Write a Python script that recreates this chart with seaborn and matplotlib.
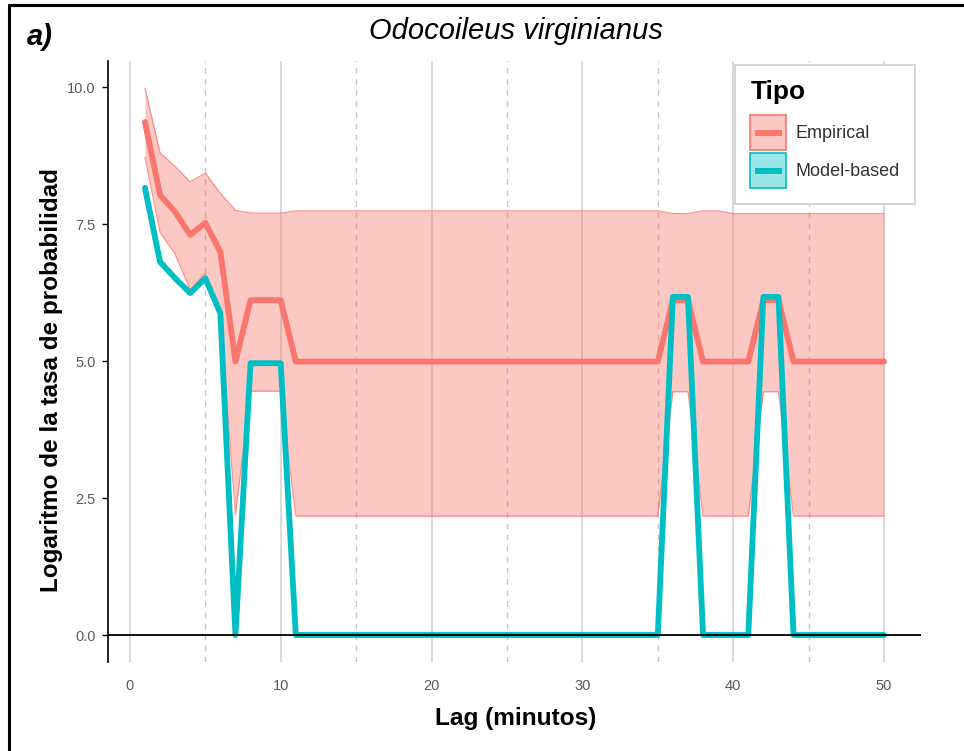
import matplotlib
matplotlib.use("Agg")
import matplotlib.pyplot as plt
from matplotlib.lines import Line2D
from matplotlib.patches import Patch, Rectangle
from matplotlib.legend_handler import HandlerTuple, HandlerPatch
from matplotlib.ticker import MultipleLocator
import numpy as np
import pandas as pd
import seaborn as sns

# Lags (minutes)
lag = list(range(1, 51))

# Empirical log-rate and its interval
empirical = ([9.36, 8.03, 7.72, 7.30, 7.52, 6.99, 4.99, 6.11, 6.11, 6.11]
             + [4.99] * 25 + [6.11, 6.11] + [4.99] * 4 + [6.11, 6.11] + [4.99] * 7)
emp_lower = ([8.72, 7.35, 6.95, 6.30, 6.60, 5.85, 2.20, 4.45, 4.45, 4.45]
             + [2.17] * 25 + [4.44, 4.44] + [2.17] * 4 + [4.44, 4.44] + [2.17] * 7)
emp_upper = ([9.98, 8.80, 8.55, 8.27, 8.43, 8.06, 7.75, 7.70, 7.70, 7.70]
             + [7.74] * 25 + [7.69, 7.69] + [7.74, 7.74] + [7.69] * 11)

# Model-based log-rate
model_based = ([8.16, 6.81, 6.51, 6.24, 6.51, 5.87, 0.0, 4.96, 4.96, 4.96]
               + [0.0] * 25 + [6.17, 6.17] + [0.0] * 4 + [6.17, 6.17] + [0.0] * 7)

tipos = ["Empirical", "Model-based"]
colores = {"Empirical": "#F8766D", "Model-based": "#00BFC4"}

df = pd.DataFrame({
    "lag": lag * 2,
    "valor": empirical + model_based,
    "Tipo": ["Empirical"] * len(lag) + ["Model-based"] * len(lag),
})

sns.set_theme(style="white")
plt.rcParams["font.family"] = ["Liberation Sans", "DejaVu Sans"]

W, H = 964, 751
LW = 4.2
fig = plt.figure(figsize=(W / 100, H / 100), dpi=100)
ax = fig.add_axes([108 / W, 1 - 662.4 / H, (921 - 108) / W, (662.4 - 60.7) / H])

# Confidence ribbon for the empirical series
ax.fill_between(lag, emp_lower, emp_upper, color=colores["Empirical"],
                alpha=0.4, linewidth=0, zorder=1)
ax.plot(lag, emp_lower, color=colores["Empirical"], alpha=0.75, lw=0.9, zorder=1.5)
ax.plot(lag, emp_upper, color=colores["Empirical"], alpha=0.75, lw=0.9, zorder=1.5)

sns.lineplot(data=df, x="lag", y="valor", hue="Tipo", hue_order=tipos,
             palette=colores, linewidth=LW, legend=False, ax=ax, zorder=3,
             estimator=None, sort=True)

ax.axhline(0, color="black", lw=1.3, zorder=4)

ax.set_xlim(-1.45, 52.45)
ax.set_ylim(-0.5, 10.48)
ax.xaxis.set_major_locator(MultipleLocator(10))
ax.xaxis.set_minor_locator(MultipleLocator(5))
ax.set_yticks([0, 2.5, 5.0, 7.5, 10.0])
ax.set_yticklabels(["0.0", "2.5", "5.0", "7.5", "10.0"])

ax.set_axisbelow(True)
ax.grid(False)
ax.grid(True, which="major", axis="x", color="#cfcfcf", lw=1.1, linestyle="-")
ax.grid(True, which="minor", axis="x", color="#c4c4c4", lw=1.0, linestyle=(0, (4, 4)))

for side in ["top", "right", "bottom"]:
    ax.spines[side].set_visible(False)
ax.spines["left"].set_color("black")
ax.spines["left"].set_linewidth(1.2)

ax.tick_params(axis="y", which="major", left=True, length=4, width=1.0,
               color="black", labelsize=10.5, labelcolor="#5a5a5a", pad=5)
ax.tick_params(axis="x", which="both", bottom=False, length=0,
               labelsize=10.5, labelcolor="#5a5a5a", pad=12)
ax.set_xlabel("")
ax.set_ylabel("")

# Axis titles and headings
fig.text(516 / W, 1 - 718 / H, "Lag (minutos)", ha="center", va="center",
         fontsize=17.6, fontweight="bold", color="black")
fig.text(52 / W, 1 - 380 / H, "Logaritmo de la tasa de probabilidad",
         ha="center", va="center", rotation=90, fontsize=17.5,
         fontweight="bold", color="black")
fig.text(516 / W, 1 - 31 / H, "Odocoileus virginianus", ha="center", va="center",
         fontsize=21, fontstyle="italic", color="black")
fig.text(27 / W, 1 - 37 / H, "a)", ha="left", va="center", fontsize=21,
         fontweight="bold", fontstyle="italic", color="black")


# Legend keys: filled square with outline and a centred horizontal bar
def bar_key(legend, orig_handle, xdescent, ydescent, width, height, fontsize):
    pad = 0.25 * fontsize
    return Rectangle((-xdescent + pad, -ydescent + height / 2 - LW / 2),
                     width - 2 * pad, LW)


handles = []
handler_map = {tuple: HandlerTuple(ndivide=1, pad=0)}
for t in tipos:
    c = colores[t]
    bar = Patch(facecolor=c, edgecolor="none")
    handler_map[bar] = HandlerPatch(patch_func=bar_key)
    handles.append((Patch(facecolor=c, alpha=0.4, edgecolor="none"),
                    Patch(facecolor="none", edgecolor=c, linewidth=1.2),
                    bar))
leg = ax.legend(handles, tipos, title="Tipo", loc="upper left",
                bbox_to_anchor=(735 / W, 1 - 65 / H),
                bbox_transform=fig.transFigure,
                handler_map=handler_map,
                fontsize=13, title_fontproperties={"weight": "bold", "size": 19},
                handlelength=2.0, handleheight=2.6, labelspacing=0.17,
                handletextpad=0.5, borderpad=0.85, borderaxespad=0,
                frameon=True, fancybox=False,
                framealpha=1, alignment="left")
leg._legend_box.sep = 8
leg.get_frame().set_edgecolor("#cccccc")
leg.get_frame().set_linewidth(1.2)
for txt in leg.get_texts():
    txt.set_color("#333333")
leg.get_title().set_color("black")

# Outer border
fig.add_artist(Line2D([9 / W, 9 / W], [0, 1 - 5 / H], transform=fig.transFigure,
                      color="black", lw=2.2))
fig.add_artist(Line2D([9 / W, 1], [1 - 5 / H, 1 - 5 / H], transform=fig.transFigure,
                      color="black", lw=2.2))

fig.savefig("out.png", dpi=100, facecolor="white")
